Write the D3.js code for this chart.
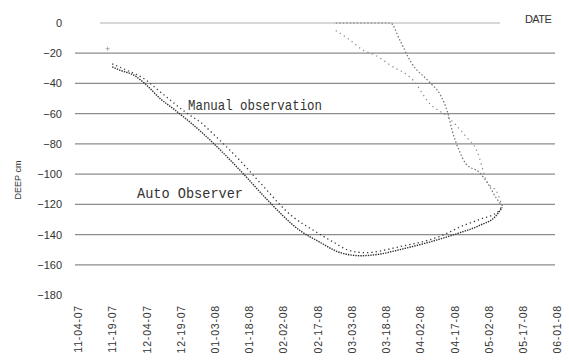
<!DOCTYPE html>
<html>
<head>
<meta charset="utf-8">
<script src="https://cdn.jsdelivr.net/npm/d3@7"></script>
<style>
  body { margin: 0; background: #fff; }
  text { font-family: "Liberation Sans", Arial, sans-serif; fill: #333; }
</style>
</head>
<body>
<svg id="chart"></svg>
<script>
// tick labels
const dateTicks = ["11-04-07", "11-19-07", "12-04-07", "12-19-07", "01-03-08", "01-18-08", "02-02-08",
  "02-17-08", "03-03-08", "03-18-08", "04-02-08", "04-17-08", "05-02-08", "05-17-08", "06-01-08"];
const depthTicks = [0, -20, -40, -60, -80, -100, -120, -140, -160, -180];

// freezing depth, auto observer (dense dots)
const autoFreezeDates = ["11-19-07", "11-22-07", "11-29-07", "12-04-07", "12-10-07", "12-16-07", "12-28-07",
  "01-06-08", "01-15-08", "01-26-08", "02-09-08", "02-18-08", "02-27-08", "03-07-08", "03-15-08",
  "03-24-08", "04-06-08", "04-19-08", "04-28-08", "05-05-08", "05-08-08"];
const autoFreezeDepth = [-29, -31, -35, -41, -50, -57, -72, -85, -99, -117, -137, -145, -152, -154, -153,
  -150, -145, -139, -134, -128, -122];

// freezing depth, manual observation (sparse dots)
const manualFreezeDates = ["11-19-07", "11-25-07", "12-02-07", "12-12-07", "12-22-07", "12-28-07", "01-02-08",
  "01-14-08", "01-23-08", "02-06-08", "02-15-08", "02-24-08", "03-01-08", "03-09-08", "03-24-08",
  "04-11-08", "04-21-08", "04-28-08", "05-06-08", "05-08-08"];
const manualFreezeDepth = [-27, -31, -36, -48, -60, -66, -73, -91, -106, -128, -137, -145, -150, -152, -148,
  -141, -134, -130, -125, -121];

// thawing from the surface
const autoThawDates = ["02-25-08", "03-20-08", "03-24-08", "03-29-08", "04-06-08", "04-11-08", "04-14-08",
  "04-16-08", "04-19-08", "04-22-08", "04-28-08", "05-02-08", "05-05-08", "05-08-08"];
const autoThawDepth = [0, 0, -11, -26, -39, -48, -59, -71, -84, -93, -99, -107, -115, -121];

const manualThawDates = ["02-25-08", "03-02-08", "03-08-08", "03-13-08", "03-20-08", "03-30-08", "04-06-08",
  "04-14-08", "04-22-08", "04-27-08", "05-01-08", "05-06-08", "05-08-08"];
const manualThawDepth = [-5, -11, -18, -21, -28, -38, -53, -62, -75, -85, -104, -113, -121];

// odd single reading at the start
const earlyDates = ["11-17-07"];
const earlyDepth = [-17];

const width = 569;
const height = 361;
const parse = d3.utcParse("%m-%d-%y");

const svg = d3.select("#chart")
  .attr("width", width)
  .attr("height", height);

svg.append("rect").attr("width", width).attr("height", height).attr("fill", "#fff");

const x = d3.scaleUtc()
  .domain([parse(dateTicks[0]), parse(dateTicks[dateTicks.length - 1])])
  .range([78, 557]);

const y = d3.scaleLinear()
  .domain([0, -180])
  .range([23, 295]);

// horizontal grid lines
svg.append("g")
  .selectAll("line")
  .data(depthTicks.filter(d => d < 0 && d > -180))
  .enter()
  .append("line")
  .attr("x1", 75)
  .attr("x2", 555)
  .attr("y1", d => y(d))
  .attr("y2", d => y(d))
  .attr("stroke", "#8c8c8c")
  .attr("stroke-width", 1.3);

// the 0 line is shorter and lighter
svg.append("line")
  .attr("x1", 100)
  .attr("x2", 500)
  .attr("y1", y(0))
  .attr("y2", y(0))
  .attr("stroke", "#b0b0b0")
  .attr("stroke-width", 1);

// y axis labels
const yAxis = svg.append("g")
  .attr("transform", "translate(62,0)")
  .call(d3.axisLeft(y).tickValues(depthTicks).tickSize(0).tickPadding(0));
yAxis.select(".domain").remove();
yAxis.selectAll("text")
  .attr("font-size", 11)
  .style("font-family", "'Liberation Sans', Arial, sans-serif")
  .attr("fill", "#3a3a3a");

// x axis labels (rotated)
const xAxis = svg.append("g")
  .attr("transform", "translate(0,300)")
  .call(d3.axisBottom(x).tickValues(dateTicks.map(parse)).tickSize(0)
    .tickFormat(d3.utcFormat("%m-%d-%y")));
xAxis.select(".domain").remove();
xAxis.selectAll("text")
  .attr("transform", "rotate(-90)")
  .attr("x", -5)
  .attr("y", 0)
  .attr("dy", "0.35em")
  .attr("font-size", 10.5)
  .attr("letter-spacing", 0.8)
  .style("text-anchor", "end")
  .style("font-family", "'Liberation Sans', Arial, sans-serif")
  .attr("fill", "#3a3a3a");

// axis titles
svg.append("text")
  .attr("transform", "translate(21,180) rotate(-90)")
  .attr("text-anchor", "middle")
  .attr("font-size", 9)
  .attr("fill", "#333")
  .text("DEEP cm");

svg.append("text")
  .attr("x", 525)
  .attr("y", 23)
  .attr("font-size", 11)
  .attr("letter-spacing", -0.6)
  .attr("fill", "#333")
  .text("DATE");

// series
function series(dates, depths) {
  return dates.map((d, i) => ({ date: parse(d), depth: depths[i] }));
}

const line = d3.line()
  .x(d => x(d.date))
  .y(d => y(d.depth))
  .curve(d3.curveMonotoneX);

svg.append("path")
  .datum(series(autoThawDates, autoThawDepth))
  .attr("d", line)
  .attr("fill", "none")
  .attr("stroke", "#707070")
  .attr("stroke-width", 1.2)
  .attr("stroke-dasharray", "1.5,2");

svg.append("path")
  .datum(series(manualThawDates, manualThawDepth))
  .attr("d", line)
  .attr("fill", "none")
  .attr("stroke", "#8a8a8a")
  .attr("stroke-width", 1.2)
  .attr("stroke-dasharray", "1.3,3.5");

svg.append("path")
  .datum(series(manualFreezeDates, manualFreezeDepth))
  .attr("d", line)
  .attr("fill", "none")
  .attr("stroke", "#3c3c3c")
  .attr("stroke-width", 1.3)
  .attr("stroke-dasharray", "1.3,3");

svg.append("path")
  .datum(series(autoFreezeDates, autoFreezeDepth))
  .attr("d", line)
  .attr("fill", "none")
  .attr("stroke", "#2e2e2e")
  .attr("stroke-width", 1.4)
  .attr("stroke-dasharray", "1.4,1.1");

svg.selectAll(".early")
  .data(series(earlyDates, earlyDepth))
  .enter()
  .append("path")
  .attr("class", "early")
  .attr("transform", d => `translate(${x(d.date)},${y(d.depth)})`)
  .attr("d", "M-2,0H2M0,-2V2")
  .attr("stroke", "#999")
  .attr("stroke-width", 0.8);

// in-chart labels
svg.append("text")
  .attr("x", 188)
  .attr("y", 110)
  .attr("font-size", 15)
  .attr("textLength", 134)
  .attr("lengthAdjust", "spacingAndGlyphs")
  .style("font-family", "'Liberation Mono', 'DejaVu Sans Mono', monospace")
  .attr("fill", "#222")
  .text("Manual observation");

svg.append("text")
  .attr("x", 137)
  .attr("y", 198)
  .attr("font-size", 14)
  .attr("textLength", 106)
  .attr("lengthAdjust", "spacingAndGlyphs")
  .style("font-family", "'Liberation Mono', 'DejaVu Sans Mono', monospace")
  .attr("fill", "#222")
  .text("Auto Observer");
</script>
</body>
</html>
